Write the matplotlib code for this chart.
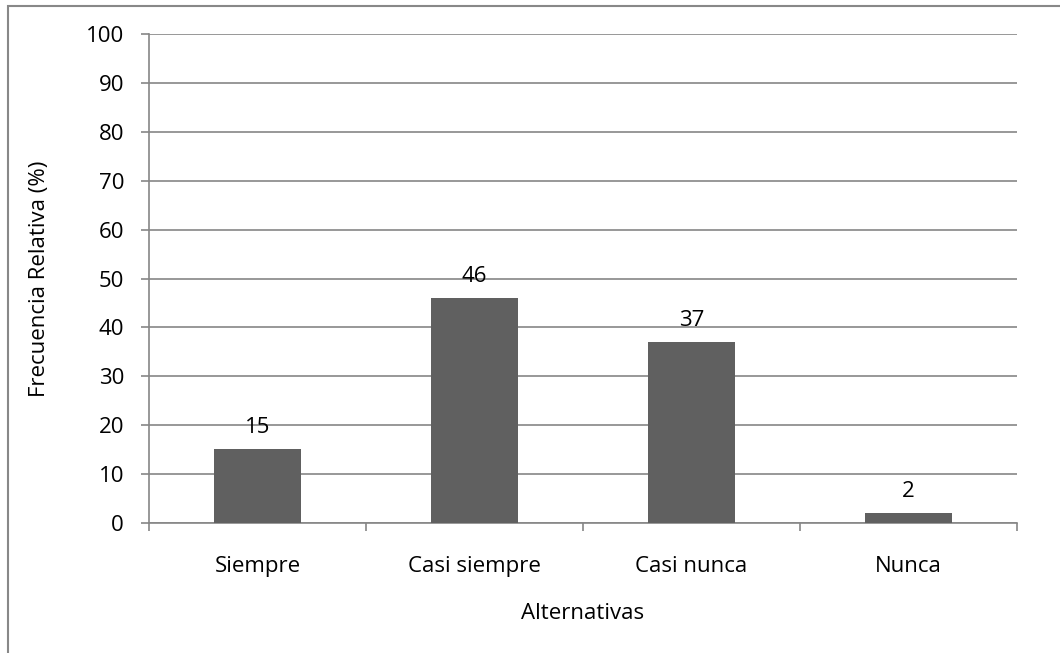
import matplotlib.pyplot as plt
from matplotlib.patches import Rectangle

categories = ["Siempre", "Casi siempre", "Casi nunca", "Nunca"]
values = [15, 46, 37, 2]
y_ticks = [0, 10, 20, 30, 40, 50, 60, 70, 80, 90, 100]

plt.rcParams["font.family"] = ["Open Sans", "DejaVu Sans"]
grid_color = "#868686"
bar_color = "#606060"
fs = 16

fig = plt.figure(figsize=(10.6, 6.53), dpi=100)
ax = fig.add_axes([0.1406, 0.1995, 0.8188, 0.7477])

x = list(range(len(categories)))
ax.bar(x, values, width=0.4, color=bar_color, zorder=3)
for xi, v in zip(x, values):
    ax.annotate(str(v), (xi, v), xytext=(0, 8), textcoords="offset points",
                ha="center", va="bottom", fontsize=fs, color="black")

ax.set_xlim(-0.5, len(categories) - 0.5)
ax.set_ylim(0, 100)
ax.set_yticks(y_ticks)
ax.tick_params(axis="y", length=6, width=1.2, color=grid_color, labelsize=fs, pad=12)
ax.yaxis.grid(True, color=grid_color, linewidth=1.2, zorder=0)

ax.set_xticks(x)
ax.set_xticklabels(categories)
ax.tick_params(axis="x", length=0, labelsize=fs, pad=24)
# category boundary ticks
ax.set_xticks([i - 0.5 for i in range(len(categories) + 1)], minor=True)
ax.tick_params(axis="x", which="minor", length=6, width=1.2, color=grid_color)

for side in ["top", "right"]:
    ax.spines[side].set_visible(False)
for side in ["left", "bottom"]:
    ax.spines[side].set_color(grid_color)
    ax.spines[side].set_linewidth(1.2)

ax.set_ylabel("Frecuencia Relativa (%)", fontsize=fs, labelpad=26)
ax.set_xlabel("Alternativas", fontsize=fs, labelpad=19)

# outer chart border (only left and top visible in the crop)
fig.patches.append(Rectangle((8 / 1060, -0.1), 1.2, 1.1 - 6 / 653,
                             transform=fig.transFigure, fill=False,
                             edgecolor="#888888", linewidth=1.5))

fig.savefig("out.png", dpi=100)
